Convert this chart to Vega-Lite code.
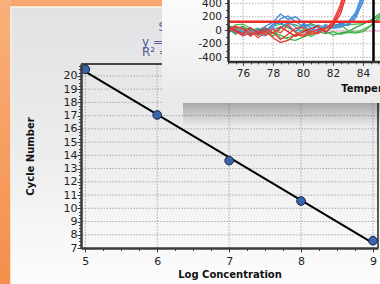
{
  "$schema": "https://vega.github.io/schema/vega-lite/v6.json",
  "width": 297,
  "height": 184,
  "autosize": "none",
  "padding": {"left": 81, "top": 64, "right": 2, "bottom": 36},
  "background": "#f8a86f",
  "config": {"view": {"stroke": null}, "font": "DejaVu Sans", "axis": {"labelOverlap": false, "grid": false}},
  "resolve": {"scale": {"x": "independent", "y": "independent"}},
  "layer": [
    {
      "resolve": {"axis": {"x": "independent", "y": "independent"}},
      "layer": [
        {
          "data": {"values": [{"x": 2, "x2": 3.966, "y": 3, "y2": 27}]},
          "mark": {"type": "rect", "fill": {"gradient": "linear", "x1": 0, "y1": 0, "x2": 0, "y2": 1, "stops": [{"offset": 0, "color": "#fab27e"}, {"offset": 1, "color": "#f38d48"}]}},
          "encoding": {
            "x": {"field": "x", "type": "quantitative", "scale": {"domain": [4.94, 9.07], "nice": false, "zero": false}, "axis": null},
            "x2": {"field": "x2"},
            "y": {"field": "y", "type": "quantitative", "scale": {"domain": [7, 20.9], "nice": false, "zero": false}, "axis": null},
            "y2": {"field": "y2"}
          }
        },
        {
          "data": {"values": [{"x": 3.966, "x2": 9.6, "y": 3, "y2": 25.21}]},
          "mark": {"type": "rect", "stroke": "#fff4ea", "strokeWidth": 1.5, "fill": {"gradient": "linear", "x1": 0, "y1": 0, "x2": 0, "y2": 1, "stops": [{"offset": 0, "color": "#e1e2e4"}, {"offset": 0.5, "color": "#ededee"}, {"offset": 1, "color": "#ffffff"}]}},
          "encoding": {
            "x": {"field": "x", "type": "quantitative", "scale": {"domain": [4.94, 9.07], "nice": false, "zero": false}, "axis": null},
            "x2": {"field": "x2"},
            "y": {"field": "y", "type": "quantitative", "scale": {"domain": [7, 20.9], "nice": false, "zero": false}, "axis": null},
            "y2": {"field": "y2"}
          }
        },
        {
          "data": {"values": [{"y": 8}, {"y": 9}, {"y": 10}, {"y": 11}, {"y": 12}, {"y": 13}, {"y": 14}, {"y": 15}, {"y": 16}, {"y": 17}, {"y": 18}, {"y": 19}, {"y": 20}]},
          "mark": {"type": "rule", "color": "#aaaaaa", "strokeWidth": 1, "strokeDash": [1.5, 1.5]},
          "encoding": {
            "y": {"field": "y", "type": "quantitative", "scale": {"domain": [7, 20.9], "nice": false, "zero": false}, "axis": null}
          }
        },
        {
          "data": {"values": [{"x": 5}, {"x": 6}, {"x": 7}, {"x": 8}, {"x": 9}]},
          "mark": {"type": "rule", "color": "#aaaaaa", "strokeWidth": 1, "strokeDash": [1.5, 1.5]},
          "encoding": {
            "x": {"field": "x", "type": "quantitative", "scale": {"domain": [4.94, 9.07], "nice": false, "zero": false}, "axis": null}
          }
        },
        {
          "data": {"values": [{"y": 20.9}]},
          "mark": {"type": "rule", "color": "#111111", "strokeWidth": 1.6},
          "encoding": {
            "y": {"field": "y", "type": "quantitative", "scale": {"domain": [7, 20.9], "nice": false, "zero": false}, "axis": null}
          }
        },
        {
          "data": {"values": [{"x": 9.07}]},
          "mark": {"type": "rule", "color": "#333333", "strokeWidth": 1.6},
          "encoding": {
            "x": {"field": "x", "type": "quantitative", "scale": {"domain": [4.94, 9.07], "nice": false, "zero": false}, "axis": null}
          }
        },
        {
          "data": {"values": [{"lc": 5, "cn": 20.5}, {"lc": 6, "cn": 17.05}, {"lc": 7, "cn": 13.6}, {"lc": 8, "cn": 10.55}, {"lc": 9, "cn": 7.55}]},
          "transform": [{"regression": "cn", "on": "lc", "extent": [5, 9]}],
          "mark": {"type": "line", "color": "#000000", "strokeWidth": 2},
          "encoding": {
            "x": {"field": "lc", "type": "quantitative", "scale": {"domain": [4.94, 9.07], "nice": false, "zero": false},
              "axis": {"orient": "bottom", "title": null, "labels": false, "domain": false, "grid": false,
                "values": [5.25, 5.5, 5.75, 6.25, 6.5, 6.75, 7.25, 7.5, 7.75, 8.25, 8.5, 8.75],
                "tickSize": 2.5, "tickColor": "#3a3a3a", "zindex": 1}},
            "y": {"field": "cn", "type": "quantitative", "scale": {"domain": [7, 20.9], "nice": false, "zero": false},
              "axis": {"orient": "left", "title": null, "labels": false, "domain": false, "grid": false,
                "values": [7.25, 7.5, 7.75, 8.25, 8.5, 8.75, 9.25, 9.5, 9.75, 10.25, 10.5, 10.75, 11.25, 11.5, 11.75, 12.25, 12.5, 12.75, 13.25, 13.5, 13.75, 14.25, 14.5, 14.75, 15.25, 15.5, 15.75, 16.25, 16.5, 16.75, 17.25, 17.5, 17.75, 18.25, 18.5, 18.75, 19.25, 19.5, 19.75, 20.25, 20.5, 20.75],
                "tickSize": 2.5, "tickColor": "#3a3a3a", "zindex": 1}}
          }
        },
        {
          "data": {"values": [{"lc": 5, "cn": 20.5}, {"lc": 6, "cn": 17.05}, {"lc": 7, "cn": 13.6}, {"lc": 8, "cn": 10.55}, {"lc": 9, "cn": 7.55}]},
          "mark": {"type": "point", "filled": true, "fill": "#3a65ad", "stroke": "#17233f", "strokeWidth": 1, "size": 75, "opacity": 1},
          "encoding": {
            "x": {"field": "lc", "type": "quantitative", "scale": {"domain": [4.94, 9.07], "nice": false, "zero": false},
              "axis": {"orient": "bottom", "title": "Log Concentration", "values": [5, 6, 7, 8, 9],
                "labelExpr": "'' + datum.value", "tickSize": 4,
                "grid": false, "domainColor": "#3a3a3a", "domainWidth": 2.5, "tickColor": "#3a3a3a", "labelFontSize": 11, "labelColor": "#1e1e1e", "labelPadding": 3,
                "labelOverlap": false, "labelFlush": false, "labelBound": false,
                "titleFontSize": 10, "titleFontWeight": "bold", "titleColor": "#111111", "titlePadding": 3, "zindex": 1}},
            "y": {"field": "cn", "type": "quantitative", "scale": {"domain": [7, 20.9], "nice": false, "zero": false},
              "axis": {"orient": "left", "title": "Cycle Number", "values": [7, 8, 9, 10, 11, 12, 13, 14, 15, 16, 17, 18, 19, 20],
                "labelExpr": "'' + datum.value", "tickSize": 4,
                "grid": false, "domainColor": "#3a3a3a", "domainWidth": 2.5, "tickColor": "#3a3a3a", "labelFontSize": 11, "labelColor": "#1e1e1e", "labelPadding": 0,
                "labelOverlap": false, "labelBound": false,
                "titleFontSize": 10, "titleFontWeight": "bold", "titleColor": "#111111", "titlePadding": 28, "zindex": 1}}
          }
        },
        {
          "data": {"values": [{"x": 6.018, "y": 23.72, "t": "Slope"}, {"x": 5.788, "y": 22.58, "t": "y = -3.2"}, {"x": 5.788, "y": 21.83, "t": "R² = 0.9"}]},
          "mark": {"type": "text", "align": "left", "baseline": "middle", "fontSize": 12, "color": "#5a5a9c"},
          "encoding": {
            "x": {"field": "x", "type": "quantitative", "scale": {"domain": [4.94, 9.07], "nice": false, "zero": false}, "axis": null},
            "y": {"field": "y", "type": "quantitative", "scale": {"domain": [7, 20.9], "nice": false, "zero": false}, "axis": null},
            "text": {"field": "t"}
          }
        }
      ]
    },
    {
      "resolve": {"axis": {"x": "independent", "y": "independent"}},
      "layer": [
        {
          "data": {"values": [{"x": 72, "x2": 90, "y": -1077, "y2": -1420}]},
          "mark": {"type": "rect", "fill": {"gradient": "linear", "x1": 0, "y1": 0, "x2": 0, "y2": 1, "stops": [{"offset": 0, "color": "rgba(0,0,0,0.28)"}, {"offset": 1, "color": "rgba(0,0,0,0)"}]}},
          "encoding": {
            "x": {"field": "x", "type": "quantitative", "scale": {"domain": [75, 86], "range": [147, 312], "nice": false, "zero": false}, "axis": null},
            "x2": {"field": "x2"},
            "y": {"field": "y", "type": "quantitative", "scale": {"domain": [-460, 460], "range": [-2.6, -64.8], "nice": false, "zero": false}, "axis": null},
            "y2": {"field": "y2"}
          }
        },
        {
          "data": {"values": [{"x": 70.6, "x2": 90, "y": -1077, "y2": 900}]},
          "mark": {"type": "rect", "fill": {"gradient": "linear", "x1": 0, "y1": 0, "x2": 0, "y2": 1, "stops": [{"offset": 0, "color": "#ffffff"}, {"offset": 0.5, "color": "#f6f6f6"}, {"offset": 1, "color": "#e9e9e9"}]}},
          "encoding": {
            "x": {"field": "x", "type": "quantitative", "scale": {"domain": [75, 86], "range": [147, 312], "nice": false, "zero": false}, "axis": null},
            "x2": {"field": "x2"},
            "y": {"field": "y", "type": "quantitative", "scale": {"domain": [-460, 460], "range": [-2.6, -64.8], "nice": false, "zero": false}, "axis": null},
            "y2": {"field": "y2"}
          }
        },
        {
          "data": {"values": [{"x": 75, "x2": 90, "y": -460, "y2": 900}]},
          "mark": {"type": "rect", "fill": "#ffffff"},
          "encoding": {
            "x": {"field": "x", "type": "quantitative", "scale": {"domain": [75, 86], "range": [147, 312], "nice": false, "zero": false}, "axis": null},
            "x2": {"field": "x2"},
            "y": {"field": "y", "type": "quantitative", "scale": {"domain": [-460, 460], "range": [-2.6, -64.8], "nice": false, "zero": false}, "axis": null},
            "y2": {"field": "y2"}
          }
        },
        {
          "data": {"values": [{"x": 76, "y": -460, "y2": 900}, {"x": 78, "y": -460, "y2": 900}, {"x": 80, "y": -460, "y2": 900}, {"x": 82, "y": -460, "y2": 900}, {"x": 84, "y": -460, "y2": 900}]},
          "mark": {"type": "rule", "color": "#b0b0b0", "strokeWidth": 1, "strokeDash": [1.5, 1.5]},
          "encoding": {
            "x": {"field": "x", "type": "quantitative", "scale": {"domain": [75, 86], "range": [147, 312], "nice": false, "zero": false},
              "axis": {"orient": "bottom", "offset": -186.6, "title": null, "labels": false, "domain": false, "grid": false,
                "values": [75, 75.5, 76.5, 77, 77.5, 78.5, 79, 79.5, 80.5, 81, 81.5, 82.5, 83, 83.5, 84.5, 85, 85.5],
                "tickSize": 2.5, "tickColor": "#444444", "zindex": 1}},
            "y": {"field": "y", "type": "quantitative", "scale": {"domain": [-460, 460], "range": [-2.6, -64.8], "nice": false, "zero": false},
              "axis": {"orient": "left", "offset": -147, "title": null, "labels": false, "domain": false, "grid": false,
                "values": [-300, -100, 100, 300],
                "tickSize": 2.5, "tickColor": "#444444", "zindex": 1}},
            "y2": {"field": "y2"}
          }
        },
        {
          "data": {"values": [{"y": -400, "x": 75, "x2": 90}, {"y": -200, "x": 75, "x2": 90}, {"y": 0, "x": 75, "x2": 90}, {"y": 200, "x": 75, "x2": 90}, {"y": 400, "x": 75, "x2": 90}]},
          "mark": {"type": "rule", "color": "#b0b0b0", "strokeWidth": 1, "strokeDash": [1.5, 1.5]},
          "encoding": {
            "x": {"field": "x", "type": "quantitative", "scale": {"domain": [75, 86], "range": [147, 312], "nice": false, "zero": false}, "axis": null},
            "x2": {"field": "x2"},
            "y": {"field": "y", "type": "quantitative", "scale": {"domain": [-460, 460], "range": [-2.6, -64.8], "nice": false, "zero": false}, "axis": null}
          }
        },
        {
          "data": {"values": [
            {"t": 75, "g1": 30, "g2": 70, "g3": -40, "g4": 0, "b1": 20, "b2": 40, "b3": -10, "b4": 60, "r1": 40, "r2": 10, "r3": 60, "r4": -20},
            {"t": 75.5, "g1": -60, "g2": 40, "g3": 20, "g4": 80, "b1": -40, "b2": 10, "b3": 50, "b4": 20, "r1": -20, "r2": 60, "r3": 0, "r4": 40},
            {"t": 76, "g1": 40, "g2": -20, "g3": 60, "g4": 90, "b1": 10, "b2": -70, "b3": 30, "b4": -30, "r1": -80, "r2": 20, "r3": -50, "r4": 30},
            {"t": 76.5, "g1": 20, "g2": -10, "g3": -50, "g4": 30, "b1": -60, "b2": 30, "b3": -80, "b4": 0, "r1": -40, "r2": -90, "r3": 40, "r4": -10},
            {"t": 77, "g1": -80, "g2": 30, "g3": -20, "g4": -30, "b1": 0, "b2": -40, "b3": 20, "b4": -60, "r1": -60, "r2": 0, "r3": -40, "r4": -110},
            {"t": 77.5, "g1": 10, "g2": -60, "g3": 40, "g4": -10, "b1": 60, "b2": -20, "b3": -10, "b4": -80, "r1": -10, "r2": -70, "r3": 30, "r4": -30},
            {"t": 78, "g1": -40, "g2": 20, "g3": -90, "g4": 60, "b1": 120, "b2": 50, "b3": 90, "b4": 30, "r1": -110, "r2": -30, "r3": -40, "r4": 20},
            {"t": 78.5, "g1": -70, "g2": -120, "g3": 30, "g4": 90, "b1": 240, "b2": 170, "b3": 110, "b4": 40, "r1": -180, "r2": -140, "r3": 50, "r4": -40},
            {"t": 79, "g1": -130, "g2": -110, "g3": 100, "g4": 40, "b1": 160, "b2": 210, "b3": 60, "b4": 120, "r1": -150, "r2": -60, "r3": -20, "r4": 90},
            {"t": 79.5, "g1": -150, "g2": -60, "g3": 80, "g4": -20, "b1": 200, "b2": 130, "b3": -20, "b4": 50, "r1": -60, "r2": 30, "r3": -90, "r4": -30},
            {"t": 80, "g1": -100, "g2": 10, "g3": 40, "g4": 60, "b1": 110, "b2": 60, "b3": 90, "b4": -40, "r1": -90, "r2": 40, "r3": -20, "r4": -70},
            {"t": 80.5, "g1": -60, "g2": -90, "g3": 100, "g4": -30, "b1": 40, "b2": 80, "b3": -20, "b4": 30, "r1": -30, "r2": -60, "r3": 20, "r4": -10},
            {"t": 81, "g1": -20, "g2": -40, "g3": 60, "g4": 10, "b1": -20, "b2": 30, "b3": 80, "b4": -10, "r1": 10, "r2": -30, "r3": 60, "r4": -50},
            {"t": 81.5, "g1": -50, "g2": 30, "g3": -10, "g4": 70, "b1": 60, "b2": -30, "b3": 40, "b4": 90, "r1": 30, "r2": 20, "r3": -30, "r4": 30, "p1": -5},
            {"t": 82, "g1": -20, "g2": 40, "g3": -70, "g4": 30, "b1": 40, "b2": 60, "b3": 70, "b4": 30, "r1": 90, "r2": 130, "r3": 70, "r4": 110, "p1": -10},
            {"t": 82.5, "g1": -60, "g2": 60, "g3": -40, "g4": 80, "b1": 60, "b2": 90, "b3": 100, "b4": 40, "r1": 300, "r2": 380, "r3": 240, "r4": 330, "p1": -8},
            {"t": 83, "g1": -30, "g2": 80, "g3": -20, "g4": 0, "b1": 90, "b2": 120, "b3": 70, "b4": 100, "r1": 700, "r2": 850, "r3": 600, "r4": 780, "p1": -12},
            {"t": 83.5, "g1": -40, "g2": 90, "g3": 40, "g4": -30, "b1": 220, "b2": 260, "b3": 180, "b4": 240, "r1": 1500, "r2": 1800, "r3": 1300, "r4": 1600, "p1": -10},
            {"t": 84, "g1": -20, "g2": 100, "g3": 90, "g4": 10, "b1": 480, "b2": 560, "b3": 420, "b4": 520, "r1": 3000, "r2": 3400, "r3": 2800, "r4": 3200, "p1": -15},
            {"t": 84.5, "g1": 60, "g2": 140, "g3": 150, "g4": 70, "b1": 1100, "b2": 1250, "b3": 950, "b4": 1150, "r1": 5000, "r2": 5000, "r3": 4800, "r4": 5000, "p1": -12},
            {"t": 85, "g1": 180, "g2": 200, "g3": 230, "g4": 150, "b1": 2500, "b2": 2700, "b3": 2300, "b4": 2600, "r1": 7000, "r2": 7000, "r3": 7000, "r4": 7000, "p1": -10},
            {"t": 85.5, "g1": 300, "g2": 280, "g3": 300, "g4": 250, "b1": 4000, "b2": 4200, "b3": 3800, "b4": 4000, "r1": 9000, "r2": 9000, "r3": 9000, "r4": 9000, "p1": -10}
          ]},
          "transform": [{"fold": ["p1", "g1", "g2", "g3", "g4", "b1", "b2", "b3", "b4", "r1", "r2", "r3", "r4"], "as": ["s", "v"]}],
          "mark": {"type": "line", "strokeWidth": 1.3},
          "encoding": {
            "x": {"field": "t", "type": "quantitative", "scale": {"domain": [75, 86], "range": [147, 312], "nice": false, "zero": false},
              "axis": {"orient": "bottom", "offset": -186.6, "title": null,
                "values": [76, 78, 80, 82, 84],
                "labelExpr": "'' + datum.value", "tickSize": 4,
                "grid": false, "domainColor": "#333333", "domainWidth": 2.5, "tickColor": "#444444", "labelFontSize": 10.5, "labelColor": "#222222", "labelPadding": 3,
                "labelOverlap": false, "labelFlush": false, "labelBound": false, "zindex": 1}},
            "y": {"field": "v", "type": "quantitative", "scale": {"domain": [-460, 460], "range": [-2.6, -64.8], "nice": false, "zero": false},
              "axis": {"orient": "left", "offset": -147, "title": null,
                "values": [-400, -200, 0, 200, 400],
                "labelExpr": "'' + datum.value", "tickSize": 3.5,
                "grid": false, "domainColor": "#333333", "domainWidth": 2.5, "tickColor": "#444444", "labelFontSize": 10.5, "labelColor": "#222222", "labelPadding": 3,
                "labelOverlap": false, "labelBound": false, "zindex": 1}},
            "color": {"field": "s", "type": "nominal", "legend": null,
              "scale": {"domain": ["p1", "g1", "g2", "g3", "g4", "b1", "b2", "b3", "b4", "r1", "r2", "r3", "r4"],
                "range": ["#f2b6d2", "#3fb24a", "#45b84f", "#3aa846", "#4cbc55", "#3f8ad8", "#4a90dc", "#3a80d0", "#5398e0", "#e8332c", "#ee3a32", "#e02a26", "#f0443a"]}}
          }
        },
        {
          "data": {"values": [{"y": 125, "x": 75, "x2": 90}]},
          "mark": {"type": "rule", "color": "#ec2c26", "strokeWidth": 2.5},
          "encoding": {
            "x": {"field": "x", "type": "quantitative", "scale": {"domain": [75, 86], "range": [147, 312], "nice": false, "zero": false}, "axis": null},
            "x2": {"field": "x2"},
            "y": {"field": "y", "type": "quantitative", "scale": {"domain": [-460, 460], "range": [-2.6, -64.8], "nice": false, "zero": false}, "axis": null}
          }
        },
        {
          "data": {"values": [{"x": 84.7, "y": -460, "y2": 900}]},
          "mark": {"type": "rule", "color": "#000000", "strokeWidth": 2.5},
          "encoding": {
            "x": {"field": "x", "type": "quantitative", "scale": {"domain": [75, 86], "range": [147, 312], "nice": false, "zero": false}, "axis": null},
            "y": {"field": "y", "type": "quantitative", "scale": {"domain": [-460, 460], "range": [-2.6, -64.8], "nice": false, "zero": false}, "axis": null},
            "y2": {"field": "y2"}
          }
        },
        {
          "data": {"values": [{"x": 82.55, "y": -862, "t": "Temperature (°C)"}]},
          "mark": {"type": "text", "align": "left", "baseline": "middle", "fontSize": 10, "fontWeight": "bold", "color": "#111111"},
          "encoding": {
            "x": {"field": "x", "type": "quantitative", "scale": {"domain": [75, 86], "range": [147, 312], "nice": false, "zero": false}, "axis": null},
            "y": {"field": "y", "type": "quantitative", "scale": {"domain": [-460, 460], "range": [-2.6, -64.8], "nice": false, "zero": false}, "axis": null},
            "text": {"field": "t"}
          }
        }
      ]
    }
  ]
}
